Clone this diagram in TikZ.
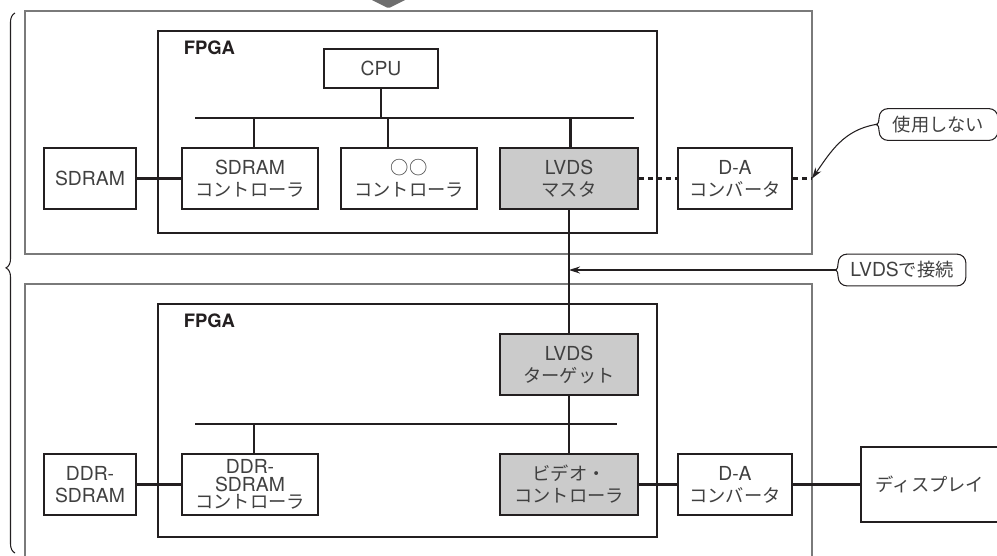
\documentclass[tikz,border=0pt]{standalone}
\usepackage{fontspec}
\setmainfont{TeX Gyre Heros}
\newfontfamily\jp{Noto Sans CJK JP}
\usetikzlibrary{arrows.meta, decorations.pathreplacing}
\definecolor{cline}{HTML}{231F20}
\definecolor{cgrey}{HTML}{CBCBCB}
\definecolor{cboard}{HTML}{7A7A7A}
\definecolor{carrow}{HTML}{6E6E6E}
\definecolor{ctext}{HTML}{404040}
\newcommand{\ja}[1]{{\jp\fontsize{10.4}{12.5}\selectfont #1}}
\tikzset{
  every picture/.style={line width=1pt},
  box/.style={draw=cline, fill=#1, text=ctext, align=center, inner sep=0pt, minimum height=1.22cm, line width=1.3pt, font=\fontsize{11}{12.5}\selectfont},
  box/.default=white,
  board/.style={draw=cboard, line width=0.7pt},
  fpga/.style={draw=cline, line width=1.3pt},
  link/.style={draw=cline, line width=1.3pt},
  dashlink/.style={link, dash pattern=on 0.1cm off 0.08cm},
  title/.style={font=\fontsize{10.5}{12}\selectfont\bfseries, text=cline, anchor=base west, inner sep=0pt},
  callout/.style={text=ctext, inner sep=0pt, minimum height=0.6cm, font=\fontsize{11}{13}\selectfont},
  callarrow/.style={draw=cline, line width=0.6pt, -{Stealth[length=2.2mm, width=1.4mm]}},
  callframe/.style={draw=cline, line width=0.6pt},
}
\newcommand{\calloutframe}[1]{%
  \draw[callframe, rounded corners=5pt]
    ([xshift=5pt]#1.north west) -- (#1.north east) -- (#1.south east) -- ([xshift=5pt]#1.south west);
  \draw[callframe]
    ([xshift=5pt]#1.south west) to[out=180, in=-90] ([yshift=-4pt]#1.west)
    to[out=90, in=0] ([xshift=-2pt]#1.west)
    to[out=0, in=-90] ([yshift=4pt]#1.west) to[out=90, in=180] ([xshift=5pt]#1.north west);
}

\begin{document}
\begin{tikzpicture}[x=0.02cm, y=-0.02cm]
  \useasboundingbox (0,0) rectangle (997,555);
  \clip (0,0) rectangle (997,555);
  \fill[carrow] (372,0) -- (405,0) -- (390,7.5) -- (387,7.5) -- cycle;
  \draw[cline, line width=0.6pt, decorate, decoration={brace, amplitude=0.18cm, aspect=0.528}] (15,553) -- (15,13);
  % boards and FPGAs
  \draw[board] (25,11) rectangle (812,254);
  \draw[board] (25,284) rectangle (812,600);
  \draw[fpga] (158,31) rectangle (657,233);
  \draw[fpga] (158,304) rectangle (657,537);
  \node[title] (fpgatop) at (183,54) {FPGA};
  \node[title] (fpgabot) at (183,327) {FPGA};
  % upper board
  \node[box, minimum width=2.28cm, minimum height=0.78cm] (cpu) at (381,68.5) {CPU};
  \node[box, minimum width=1.84cm] (sdram) at (90,178.5) {SDRAM};
  \node[box, minimum width=2.72cm] (sdctl) at (250,178.5) {SDRAM\\\ja{コントローラ}};
  \node[box, minimum width=2.72cm] (ooctl) at (409,178.5) {\ja{○○}\\\ja{コントローラ}};
  \node[box=cgrey, minimum width=2.76cm] (lvdsm) at (569,178.5) {LVDS\\\ja{マスタ}};
  \node[box, minimum width=2.28cm] (dac1) at (735,178.5) {D-A\\\ja{コンバータ}};
  \coordinate (bus1l) at (195,118);
  \coordinate (bus1r) at (634,118);
  \coordinate (daend) at (812,178.5);
  \draw[link] (bus1l) -- (bus1r);
  \draw[link] (cpu.south) -- (cpu.south |- bus1l);
  \draw[link] ([xshift=0.08cm]sdctl.north) -- ([xshift=0.08cm]sdctl.north |- bus1l);
  \draw[link] ([xshift=-0.42cm]ooctl.north) -- ([xshift=-0.42cm]ooctl.north |- bus1l);
  \draw[link] ([xshift=0.03cm]lvdsm.north) -- ([xshift=0.03cm]lvdsm.north |- bus1l);
  \draw[link] (sdram.east) -- (sdctl.west);
  \draw[dashlink] (lvdsm.east) -- (dac1.west);
  \draw[dashlink] (dac1.east) -- (daend);
  % lower board
  \node[box=cgrey, minimum width=2.76cm] (lvdst) at (569,364.5) {LVDS\\\ja{ターゲット}};
  \node[box, minimum width=1.84cm] (ddr) at (90,484.5) {DDR-\\SDRAM};
  \node[box, minimum width=2.72cm] (ddrctl) at (250,484.5) {DDR-\\[-2.5pt]SDRAM\\[-2.5pt]\ja{コントローラ}};
  \node[box=cgrey, minimum width=2.76cm] (vidctl) at (569,484.5) {\ja{ビデオ・}\\\ja{コントローラ}};
  \node[box, minimum width=2.28cm] (dac2) at (735,484.5) {D-A\\\ja{コンバータ}};
  \node[box, minimum width=2.76cm, minimum height=1.5cm] (disp) at (930,484.5) {\ja{ディスプレイ}};
  \coordinate (bus2l) at (195,424);
  \coordinate (bus2r) at (617,424);
  \draw[link] (bus2l) -- (bus2r);
  \draw[link] ([xshift=0.08cm]ddrctl.north) -- ([xshift=0.08cm]ddrctl.north |- bus2l);
  \draw[link] (lvdsm.south) -- (lvdst.north);
  \draw[link] (lvdst.south) -- (vidctl.north);
  \draw[link] (ddr.east) -- (ddrctl.west);
  \draw[link] (vidctl.east) -- (dac2.west);
  \draw[link] (dac2.east) -- (disp.west);
  % callouts
  \node[callout, minimum width=2.34cm] (unused) at (938.5,124.5) {\ja{使用しない}};
  \calloutframe{unused}
  \draw[callarrow] ([xshift=-2pt]unused.west) to[out=190, in=55] (daend);
  \node[callout, minimum width=2.52cm] (lvdslink) at (902,270) {LVDS\ja{で接続}};
  \calloutframe{lvdslink}
  \draw[callarrow] ([xshift=-2pt]lvdslink.west) -- (lvdslink.west -| lvdsm.south);
\end{tikzpicture}
\end{document}
